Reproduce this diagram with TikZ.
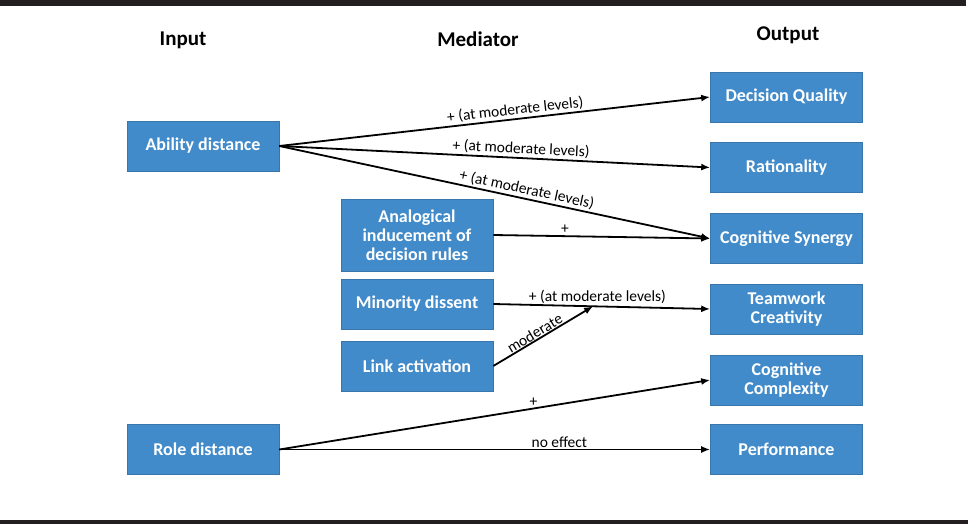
\documentclass[tikz,border=0pt]{standalone}
\usepackage{fontspec}
\setmainfont{Carlito}
\usepackage{tikz}
\usetikzlibrary{arrows.meta,positioning,calc}
\definecolor{boxblue}{RGB}{66,139,202}
\definecolor{barblack}{RGB}{35,31,32}

\tikzset{
    box/.style={draw=boxblue!85!black, line width=0.6pt, fill=boxblue, text=white,
        font=\fontsize{18}{20}\selectfont\bfseries, align=center,
        minimum width=152pt, minimum height=50pt, inner sep=2pt},
    head/.style={font=\fontsize{21}{24}\selectfont\bfseries},
    link/.style={line width=1.8pt, -{Latex[length=9pt,width=7pt]}},
    lbl/.style={font=\fontsize{15.5}{17}\selectfont, inner sep=1.5pt}
}

\begin{document}
\begin{tikzpicture}[x=1pt,y=-1pt]
    \useasboundingbox (0,0) rectangle (978,524);

    % Rules at top and bottom
    \fill[barblack] (0,0) rectangle (966,6);
    \fill[barblack] (0,520) rectangle (968,524);

    % Column heads
    \node[head] (hin) at (183,40) {Input};
    \node[head] (hmed) at (478,39) {Mediator};
    \node[head] (hout) at (788,35) {Output};

    % Inputs
    \node[box] (ab) at (203,146) {Ability distance};
    \node[box] (rd) at (203,449.5) {Role distance};

    % Mediators
    \node[box, minimum height=72pt] (an) at (417,235) {Analogical\\[-1pt]inducement of\\[-1pt]decision rules};
    \node[box] (md) at (417,304) {Minority dissent};
    \node[box] (la) at (417,366) {Link activation};

    % Outputs
    \node[box] (dq) at (786.5,97) {Decision Quality};
    \node[box] (ra) at (786.5,167.5) {Rationality};
    \node[box] (cs) at (786.5,238.5) {Cognitive Synergy};
    \node[box] (tc) at (786.5,309) {Teamwork\\[-1pt]Creativity};
    \node[box] (cc) at (786.5,380) {Cognitive\\[-1pt]Complexity};
    \node[box] (pf) at (786.5,449.5) {Performance};

    % Paths from ability distance
    \draw[link] (ab.east) -- (dq.west) node[lbl, pos=0.55, above, sloped] {+ (at moderate levels)};
    \draw[link] (ab.east) -- (ra.west) node[lbl, pos=0.56, above, sloped] {+ (at moderate levels)};
    \draw[link] (ab.east) -- (cs.west) node[lbl, pos=0.57, above, sloped] {+ (at moderate levels)};

    % Paths from mediators
    \draw[link] (an.east) -- (cs.west) node[lbl, pos=0.33, above] {+};
    \draw[link] (md.east) -- (tc.west) node[lbl, pos=0.48, above] {+ (at moderate levels)};
    \coordinate (mj) at ($(md.east)!0.46!(tc.west)$);
    \draw[link] (la.east) -- (mj) node[lbl, pos=0.45, above, sloped, inner sep=0.5pt] {moderate};

    % Paths from role distance
    \draw[link] (rd.east) -- (cc.west) node[lbl, pos=0.59, above] {+};
    \draw[link] (rd.east) -- (pf.west) node[lbl, pos=0.65, above, inner sep=0.5pt] {no effect};
\end{tikzpicture}
\end{document}
